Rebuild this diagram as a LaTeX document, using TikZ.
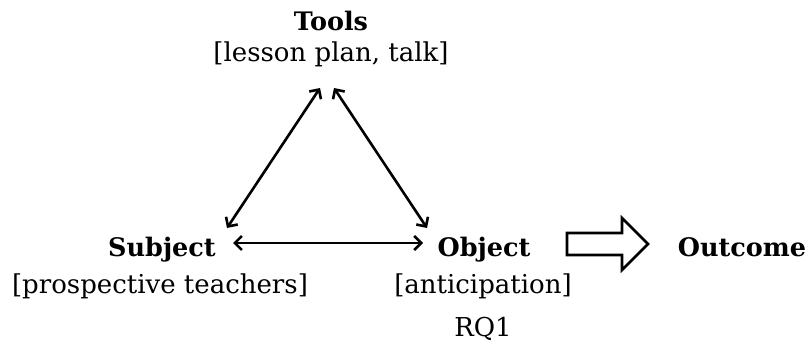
\documentclass[tikz,border=0pt]{standalone}
\usepackage{fontspec}
\setmainfont{DejaVu Serif}
\usetikzlibrary{arrows.meta}
\begin{document}
\begin{tikzpicture}[x=1pt,y=1pt,
  lbl/.style={anchor=base,inner sep=0pt,font=\fontsize{26}{30}\selectfont},
  ttl/.style={lbl,font=\fontsize{25.5}{30}\selectfont\bfseries},
  link/.style={line width=2.6pt,{Straight Barb[length=7pt,width=14pt,line width=2.6pt]}-{Straight Barb[length=7pt,width=14pt,line width=2.6pt]}},
  blockarrow/.style={line width=2.6pt,line join=miter}]
\useasboundingbox (0,0) rectangle (812,346);
% titles
\node[ttl] (tools) at (331,315) {Tools};
\node[lbl] (toolsd) at (331,284) {[lesson plan, talk]};
\node[ttl] (subject) at (162,89.5) {Subject};
\node[lbl] (subjectd) at (160,53) {[prospective teachers]};
\node[ttl] (object) at (484,89.5) {Object};
\node[lbl] (objectd) at (483,53) {[anticipation]};
\node[lbl] (rq) at (483,9.5) {RQ1};
\node[ttl] (outcome) at (742,89.5) {Outcome};
% arrow end points
\coordinate (tl) at (320,258);
\coordinate (tr) at (334,258);
\coordinate (sl) at (227,118);
\coordinate (or) at (427,118);
\coordinate (sh) at (233,103);
\coordinate (oh) at (423,103);
\draw[link] (tl) -- (sl);
\draw[link] (tr) -- (or);
\draw[link] (sh) -- (oh);
% block arrow
\draw[blockarrow] (567,113) -- (622,113) -- (622,128) -- (648,102) -- (622,76) -- (622,91) -- (567,91) -- cycle;
\end{tikzpicture}
\end{document}
